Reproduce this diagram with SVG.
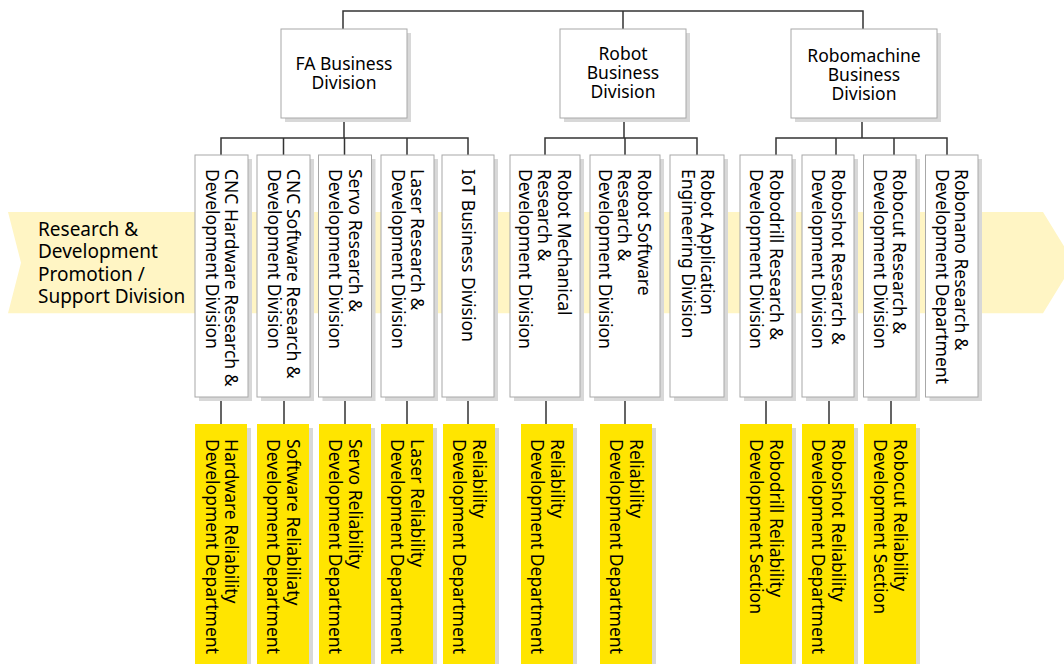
<svg xmlns="http://www.w3.org/2000/svg" width="1064" height="664" viewBox="0 0 1064 664">
<style>
text{font-family:"Noto Sans","Liberation Sans",sans-serif;fill:#000;}
.t{font-size:17.5px;}
.tc{font-size:17.5px;text-anchor:middle;}
.lbl{font-size:19px;}
.box{fill:#fff;stroke:#a8a8a8;stroke-width:1;}
.ybox{fill:#ffe500;}
.sh{fill:#d8d8d8;}
.con{fill:none;stroke:#333;stroke-width:1.5;}
</style>
<rect width="1064" height="664" fill="#fff"/>
<g id="band">
<polygon points="8,212 1043,212 1074,262.7 1043,313.3 8,313.3 21,262.7" fill="#fff5c4"/>
<text class="lbl"><tspan x="38" y="236">Research &amp;</tspan><tspan x="38" y="258.3">Development</tspan><tspan x="38" y="280.6">Promotion /</tspan><tspan x="38" y="303">Support Division</tspan></text>
</g>
<g id="connectors">
<path class="con" d="M343,29V11H863V29M623,11V29"/>
<path class="con" d="M344,118V138M221,155V138H468V155M283.5,138V155M344.5,138V155M407,138V155"/>
<path class="con" d="M624,118V138M545,155V138H697V155M625,138V155"/>
<path class="con" d="M862,118V138M776,155V138H947V155M836,138V155M894,138V155"/>
<path class="con" d="M221,397V424M284,397V424M345,397V424M407,397V424M468,397V424M546,397V424M625,397V424M766,397V424M829,397V424M891,397V424"/>
</g>
<g id="fa">
<rect class="sh" x="285" y="33" width="126" height="89"/>
<rect class="box" x="281" y="29" width="126" height="89"/>
<text class="tc"><tspan x="344" y="70">FA Business</tspan><tspan x="344" y="89">Division</tspan></text>
</g>
<g id="robot">
<rect class="sh" x="564" y="33" width="126" height="89"/>
<rect class="box" x="560" y="29" width="126" height="89"/>
<text class="tc"><tspan x="623" y="60">Robot</tspan><tspan x="623" y="79">Business</tspan><tspan x="623" y="98">Division</tspan></text>
</g>
<g id="robomachine">
<rect class="sh" x="795" y="33" width="146" height="89"/>
<rect class="box" x="791" y="29" width="146" height="89"/>
<text class="tc"><tspan x="864" y="62">Robomachine</tspan><tspan x="864" y="81">Business</tspan><tspan x="864" y="100">Division</tspan></text>
</g>
<g id="cnc-hw">
<rect class="sh" x="199" y="159" width="53" height="242"/>
<rect class="box" x="195" y="155" width="53" height="242"/>
<text class="t" transform="translate(225,169) rotate(90)"><tspan x="0" y="0">CNC Hardware Research &amp;</tspan><tspan x="0" y="19.5">Development Division</tspan></text>
</g>
<g id="cnc-sw">
<rect class="sh" x="261" y="159" width="53" height="242"/>
<rect class="box" x="257" y="155" width="53" height="242"/>
<text class="t" transform="translate(287,169) rotate(90)"><tspan x="0" y="0">CNC Software Research &amp;</tspan><tspan x="0" y="19.5">Development Division</tspan></text>
</g>
<g id="servo">
<rect class="sh" x="322.5" y="159" width="53" height="242"/>
<rect class="box" x="318.5" y="155" width="53" height="242"/>
<text class="t" transform="translate(348.5,169) rotate(90)"><tspan x="0" y="0">Servo Research &amp;</tspan><tspan x="0" y="19.5">Development Division</tspan></text>
</g>
<g id="laser">
<rect class="sh" x="385" y="159" width="53" height="242"/>
<rect class="box" x="381" y="155" width="53" height="242"/>
<text class="t" transform="translate(411,169) rotate(90)"><tspan x="0" y="0">Laser Research &amp;</tspan><tspan x="0" y="19.5">Development Division</tspan></text>
</g>
<g id="iot">
<rect class="sh" x="446" y="159" width="52" height="242"/>
<rect class="box" x="442" y="155" width="52" height="242"/>
<text class="t" transform="translate(462,169) rotate(90)"><tspan x="0" y="0">IoT Business Division</tspan></text>
</g>
<g id="robot-mech">
<rect class="sh" x="514" y="159" width="70" height="242"/>
<rect class="box" x="510" y="155" width="70" height="242"/>
<text class="t" transform="translate(557.5,169) rotate(90)"><tspan x="0" y="0">Robot Mechanical</tspan><tspan x="0" y="19.5">Research &amp;</tspan><tspan x="0" y="39">Development Division</tspan></text>
</g>
<g id="robot-sw">
<rect class="sh" x="594" y="159" width="70" height="242"/>
<rect class="box" x="590" y="155" width="70" height="242"/>
<text class="t" transform="translate(637.5,169) rotate(90)"><tspan x="0" y="0">Robot Software</tspan><tspan x="0" y="19.5">Research &amp;</tspan><tspan x="0" y="39">Development Division</tspan></text>
</g>
<g id="robot-app">
<rect class="sh" x="674" y="159" width="54" height="242"/>
<rect class="box" x="670" y="155" width="54" height="242"/>
<text class="t" transform="translate(701,169) rotate(90)"><tspan x="0" y="0">Robot Application</tspan><tspan x="0" y="19.5">Engineering Division</tspan></text>
</g>
<g id="robodrill">
<rect class="sh" x="744" y="159" width="52" height="242"/>
<rect class="box" x="740" y="155" width="52" height="242"/>
<text class="t" transform="translate(769.5,169) rotate(90)"><tspan x="0" y="0">Robodrill Research &amp;</tspan><tspan x="0" y="19.5">Development Division</tspan></text>
</g>
<g id="roboshot">
<rect class="sh" x="806" y="159" width="52" height="242"/>
<rect class="box" x="802" y="155" width="52" height="242"/>
<text class="t" transform="translate(831.5,169) rotate(90)"><tspan x="0" y="0">Roboshot Research &amp;</tspan><tspan x="0" y="19.5">Development Division</tspan></text>
</g>
<g id="robocut">
<rect class="sh" x="867.5" y="159" width="52.5" height="242"/>
<rect class="box" x="863.5" y="155" width="52.5" height="242"/>
<text class="t" transform="translate(893,169) rotate(90)"><tspan x="0" y="0">Robocut Research &amp;</tspan><tspan x="0" y="19.5">Development Division</tspan></text>
</g>
<g id="robonano">
<rect class="sh" x="929.5" y="159" width="52.5" height="242"/>
<rect class="box" x="925.5" y="155" width="52.5" height="242"/>
<text class="t" transform="translate(955,169) rotate(90)"><tspan x="0" y="0">Robonano Research &amp;</tspan><tspan x="0" y="19.5">Development Department</tspan></text>
</g>
<g id="hw-rel">
<rect class="sh" x="199" y="428" width="52" height="240"/>
<rect class="ybox" x="195" y="424" width="52" height="240"/>
<text class="t" transform="translate(225,439) rotate(90)"><tspan x="0" y="0">Hardware Reliability</tspan><tspan x="0" y="19.5">Development Department</tspan></text>
</g>
<g id="sw-rel">
<rect class="sh" x="261" y="428" width="52" height="240"/>
<rect class="ybox" x="257" y="424" width="52" height="240"/>
<text class="t" transform="translate(286.5,439) rotate(90)"><tspan x="0" y="0">Software Reliabiliaty</tspan><tspan x="0" y="19.5">Development Department</tspan></text>
</g>
<g id="servo-rel">
<rect class="sh" x="323" y="428" width="52" height="240"/>
<rect class="ybox" x="319" y="424" width="52" height="240"/>
<text class="t" transform="translate(348.5,439) rotate(90)"><tspan x="0" y="0">Servo Reliability</tspan><tspan x="0" y="19.5">Development Department</tspan></text>
</g>
<g id="laser-rel">
<rect class="sh" x="385" y="428" width="52" height="240"/>
<rect class="ybox" x="381" y="424" width="52" height="240"/>
<text class="t" transform="translate(410.5,439) rotate(90)"><tspan x="0" y="0">Laser Reliability</tspan><tspan x="0" y="19.5">Development Department</tspan></text>
</g>
<g id="iot-rel">
<rect class="sh" x="447" y="428" width="52" height="240"/>
<rect class="ybox" x="443" y="424" width="52" height="240"/>
<text class="t" transform="translate(472.5,439) rotate(90)"><tspan x="0" y="0">Reliability</tspan><tspan x="0" y="19.5">Development Department</tspan></text>
</g>
<g id="robot-mech-rel">
<rect class="sh" x="525" y="428" width="52" height="240"/>
<rect class="ybox" x="521" y="424" width="52" height="240"/>
<text class="t" transform="translate(550.5,439) rotate(90)"><tspan x="0" y="0">Reliability</tspan><tspan x="0" y="19.5">Development Department</tspan></text>
</g>
<g id="robot-sw-rel">
<rect class="sh" x="604" y="428" width="52" height="240"/>
<rect class="ybox" x="600" y="424" width="52" height="240"/>
<text class="t" transform="translate(629.5,439) rotate(90)"><tspan x="0" y="0">Reliability</tspan><tspan x="0" y="19.5">Development Department</tspan></text>
</g>
<g id="robodrill-rel">
<rect class="sh" x="744" y="428" width="52" height="240"/>
<rect class="ybox" x="740" y="424" width="52" height="240"/>
<text class="t" transform="translate(769.5,439) rotate(90)"><tspan x="0" y="0">Robodrill Reliability</tspan><tspan x="0" y="19.5">Development Section</tspan></text>
</g>
<g id="roboshot-rel">
<rect class="sh" x="806" y="428" width="52" height="240"/>
<rect class="ybox" x="802" y="424" width="52" height="240"/>
<text class="t" transform="translate(831.5,439) rotate(90)"><tspan x="0" y="0">Roboshot Reliability</tspan><tspan x="0" y="19.5">Development Department</tspan></text>
</g>
<g id="robocut-rel">
<rect class="sh" x="868" y="428" width="52" height="240"/>
<rect class="ybox" x="864" y="424" width="52" height="240"/>
<text class="t" transform="translate(893.5,439) rotate(90)"><tspan x="0" y="0">Robocut Reliability</tspan><tspan x="0" y="19.5">Development Section</tspan></text>
</g>
</svg>
